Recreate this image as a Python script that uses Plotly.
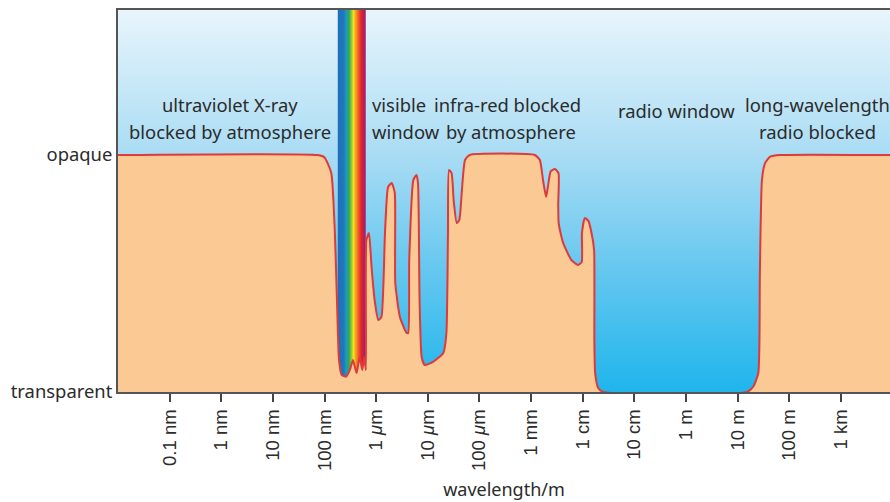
import plotly.graph_objects as go

# ---- data: log10(wavelength / m) and atmospheric opacity (0 = transparent, 1 = opaque)
log_wavelength = [-11.0, -7.13, -7.00, -6.87, -6.80, -6.76, -6.72, -6.67, -6.58, -6.51,
                  -6.45, -6.38, -6.32, -6.27, -6.23, -6.20, -6.19, -6.14, -6.09, -6.03,
                  -5.96, -5.90, -5.83, -5.77, -5.70, -5.64, -5.63, -5.54, -5.41, -5.38,
                  -5.36, -5.28, -5.22, -5.19, -5.16, -5.12, -5.06, -4.90, -4.70, -4.64,
                  -4.61, -4.59, -4.54, -4.50, -4.44, -4.39, -4.34, -4.28, -4.19, -2.93,
                  -2.83, -2.77, -2.71, -2.67, -2.62, -2.54, -2.47, -2.475, -2.465, -2.38,
                  -2.22, -2.09, -2.02, -2.015, -1.96, -1.89, -1.83, -1.78, -1.775, -1.76,
                  -1.70, -1.60, 1.18, 1.30, 1.40, 1.43, 1.47, 1.53, 1.63, 1.82, 3.95]
opacity = [1.0, 1.0, 0.99, 0.924, 0.671, 0.388, 0.135, 0.072, 0.065, 0.093,
           0.135, 0.080, 0.148, 0.093, 0.148, 0.093, 0.641, 0.671, 0.527, 0.388,
           0.304, 0.316, 0.671, 0.865, 0.882, 0.840, 0.460, 0.316, 0.249, 0.249,
           0.557, 0.895, 0.916, 0.882, 0.388, 0.148, 0.114, 0.127, 0.165, 0.249,
           0.671, 0.937, 0.924, 0.810, 0.713, 0.726, 0.852, 0.979, 1.0, 1.0,
           0.979, 0.895, 0.823, 0.873, 0.932, 0.941, 0.924, 0.79, 0.71, 0.629,
           0.557, 0.536, 0.549, 0.671, 0.734, 0.722, 0.671, 0.599, 0.219, 0.080,
           0.017, 0.0, 0.0, 0.022, 0.080, 0.502, 0.895, 0.966, 0.993, 1.0, 1.0]

# visible band (log10 of wavelength in m)
visible_band = [-6.744, -6.202]
rainbow_stops = [0.0, 0.22, 0.30, 0.40, 0.50, 0.56, 0.64, 0.74, 0.84, 0.92, 1.0]
rainbow_colors = ["#1f6fb8", "#1f78bd", "#1a9cc2", "#2fa74f", "#9ccb3b", "#f2e21c",
                  "#f6a21e", "#f05a26", "#e2242b", "#b8205a", "#9c2470"]

tick_log = [-10, -9, -8, -7, -6, -5, -4, -3, -2, -1, 0, 1, 2, 3]
tick_labels = ["0.1 nm", "1 nm", "10 nm", "100 nm", "1 <i>μ</i>m", "10 <i>μ</i>m",
               "100 <i>μ</i>m", "1 mm", "1 cm", "10 cm", "1 m", "10 m", "100 m", "1 km"]

x_range = [-11.0, 3.95]
y_range = [0.0, 1.612]

# (text, x position, y position, anchor)
region_labels = [
    ("ultraviolet X-ray", -8.83, 1.215, "center"),
    ("blocked by atmosphere", -8.83, 1.101, "center"),
    ("visible", -6.12, 1.215, "left"),
    ("window", -6.12, 1.101, "left"),
    ("infra-red blocked", -3.46, 1.215, "center"),
    ("by atmosphere", -3.38, 1.101, "center"),
    ("radio window", -0.19, 1.19, "center"),
    ("long-wavelength", 2.54, 1.215, "center"),
    ("radio blocked", 2.54, 1.101, "center"),
]

TEXT = "#2b2b2b"
FONT = "Noto Sans"

fig = go.Figure()

# background sky gradient
fig.add_trace(go.Scatter(
    x=[x_range[0], x_range[1], x_range[1], x_range[0], x_range[0]],
    y=[y_range[0], y_range[0], y_range[1], y_range[1], y_range[0]],
    mode="none", fill="toself",
    fillgradient=dict(type="vertical",
                      colorscale=[[0, "#1fb5ec"], [0.35, "#6cc9f0"], [0.62, "#a9dcf4"], [1, "#e8f5fc"]]),
    hoverinfo="skip", showlegend=False))

# rainbow band for visible light
fig.add_trace(go.Scatter(
    x=[visible_band[0], visible_band[1], visible_band[1], visible_band[0], visible_band[0]],
    y=[y_range[0], y_range[0], y_range[1], y_range[1], y_range[0]],
    mode="none", fill="toself",
    fillgradient=dict(type="horizontal",
                      colorscale=[[s, c] for s, c in zip(rainbow_stops, rainbow_colors)]),
    hoverinfo="skip", showlegend=False))

# opacity curve
fig.add_trace(go.Scatter(
    x=log_wavelength, y=opacity, mode="lines",
    line=dict(color="#dc3a3c", width=2, shape="spline", smoothing=0.5),
    fill="tozeroy", fillcolor="#fbc993",
    hoverinfo="skip", showlegend=False))

for text, x, y, align in region_labels:
    fig.add_annotation(x=x, y=y, text=text, showarrow=False,
                       xanchor="left" if align == "left" else "center", yanchor="middle",
                       font=dict(family=FONT, size=18.4, color=TEXT))

fig.update_layout(
    width=890, height=502,
    margin=dict(l=118, r=0, t=10, b=110),
    paper_bgcolor="white", plot_bgcolor="white",
    xaxis=dict(range=x_range, tickvals=tick_log, ticktext=tick_labels, tickangle=-90,
               ticks="outside", ticklen=8, tickwidth=1.5, tickcolor="#444",
               showline=True, linecolor="#555", linewidth=2, mirror=True,
               showgrid=False, zeroline=False, automargin=False,
               tickfont=dict(family="Liberation Sans", size=18.5, color=TEXT),
               title=dict(text="wavelength/m", font=dict(family=FONT, size=18, color=TEXT),
                          standoff=13)),
    yaxis=dict(range=y_range, tickvals=[0, 1], ticktext=["transparent", "opaque"],
               ticks="", showline=True, linecolor="#555", linewidth=2,
               showgrid=False, zeroline=False, automargin=False,
               tickfont=dict(family=FONT, size=18.4, color=TEXT)),
)

fig.write_html("out.html", config={"displayModeBar": False},
               post_script="document.body.style.margin='0';document.body.style.overflow='hidden';")
